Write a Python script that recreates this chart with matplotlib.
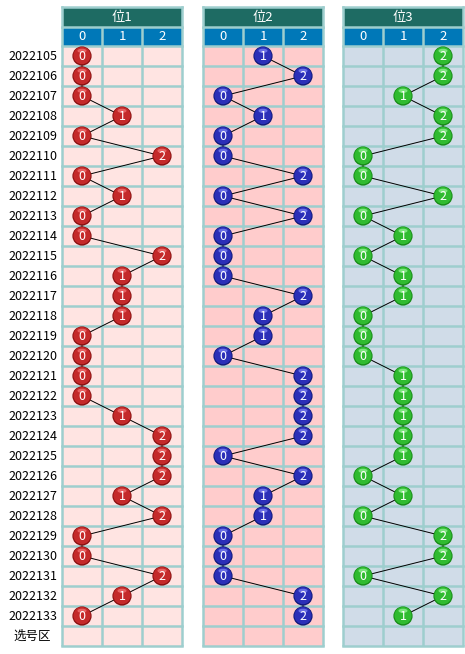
import matplotlib.pyplot as plt
from matplotlib.patches import Rectangle, Circle, Ellipse

plt.rcParams['font.family'] = ['Noto Sans CJK SC', 'DejaVu Sans']

# 期号
periods = [str(n) for n in range(2022105, 2022134)]

# 三个位置的开奖号码 (0/1/2)
pos1 = [0, 0, 0, 1, 0, 2, 0, 1, 0, 0, 2, 1, 1, 1, 0, 0, 0, 0, 1, 2,
        2, 2, 1, 2, 0, 0, 2, 1, 0]
pos2 = [1, 2, 0, 1, 0, 0, 2, 0, 2, 0, 0, 0, 2, 1, 1, 0, 2, 2, 2, 2,
        0, 2, 1, 1, 0, 0, 0, 2, 2]
pos3 = [2, 2, 1, 2, 2, 0, 0, 2, 0, 1, 0, 1, 1, 0, 0, 0, 1, 1, 1, 1,
        1, 0, 1, 0, 2, 2, 0, 2, 1]

titles = ["位1", "位2", "位3"]
digits = ["0", "1", "2"]
last_row = "选号区"

# 版式 (像素)
W, H = 465, 654
lefts = [62, 203, 343]
cell_w = 40
top = 7
head_h = 20
sub_h = 19
row_h = 20
grid_c = "#9ecece"
bgs = ["#ffe4e2", "#ffcccc", "#d0dce8"]
ball_cols = [("#c42a2a", "#8a1010", "#f07070"),
             ("#2b2fb8", "#101a78", "#7a80f0"),
             ("#30bb30", "#168a16", "#90f090")]

fig = plt.figure(figsize=(W / 100, H / 100), dpi=100)
ax = fig.add_axes([0, 0, 1, 1])
ax.set_xlim(0, W)
ax.set_ylim(H, 0)
ax.axis("off")

y0 = top + head_h + sub_h
n_rows = len(periods) + 1

for i, p in enumerate(periods):
    ax.text(57, y0 + row_h * (i + 0.5), p, ha="right", va="center",
            fontsize=9, color="black", fontweight="light")
ax.text(32, y0 + row_h * (len(periods) + 0.5), last_row, ha="center",
        va="center", fontsize=9, color="black")

for k, vals in enumerate([pos1, pos2, pos3]):
    x0 = lefts[k]
    pw = cell_w * 3
    # 表头
    ax.add_patch(Rectangle((x0, top), pw, head_h, fc="#1e6b63", ec="none"))
    ax.text(x0 + pw / 2, top + head_h / 2, titles[k], ha="center",
            va="center", color="white", fontsize=9.5)
    ax.add_patch(Rectangle((x0, top + head_h), pw, sub_h, fc="#0078b8",
                           ec="none"))
    for j, d in enumerate(digits):
        ax.text(x0 + cell_w * (j + 0.5), top + head_h + sub_h / 2, d,
                ha="center", va="center", color="white", fontsize=9.5)
    # 数据区背景
    ax.add_patch(Rectangle((x0, y0), pw, row_h * n_rows, fc=bgs[k],
                           ec="none"))
    # 网格
    for j in range(4):
        ax.plot([x0 + cell_w * j] * 2, [top + head_h, y0 + row_h * n_rows],
                color=grid_c, lw=1.8, solid_capstyle="butt")
    ax.plot([x0, x0], [top, top + head_h], color=grid_c, lw=1.8)
    ax.plot([x0 + pw, x0 + pw], [top, top + head_h], color=grid_c, lw=1.8)
    for r in range(n_rows + 1):
        ax.plot([x0, x0 + pw], [y0 + row_h * r] * 2, color=grid_c, lw=1.8)
    ax.plot([x0, x0 + pw], [top + head_h] * 2, color=grid_c, lw=1.8)
    ax.plot([x0, x0 + pw], [top] * 2, color=grid_c, lw=1.8)

    xs = [x0 + cell_w * (v + 0.5) for v in vals]
    ys = [y0 + row_h * (i + 0.5) for i in range(len(vals))]
    ax.plot(xs, ys, color="black", lw=0.7, zorder=3)

    base, dark, light = ball_cols[k]
    for x, y, v in zip(xs, ys, vals):
        ax.add_patch(Circle((x, y), 9.6, fc=dark, ec="none", zorder=4))
        ax.add_patch(Circle((x, y - 0.4), 8.6, fc=base, ec="none", zorder=4))
        ax.add_patch(Ellipse((x, y - 5.2), 9, 4.2, fc=light, ec="none",
                             alpha=0.8, zorder=4))
        ax.text(x, y + 0.3, str(v), ha="center", va="center", color="white",
                fontsize=9, zorder=5)

fig.savefig("out.png", dpi=100)
